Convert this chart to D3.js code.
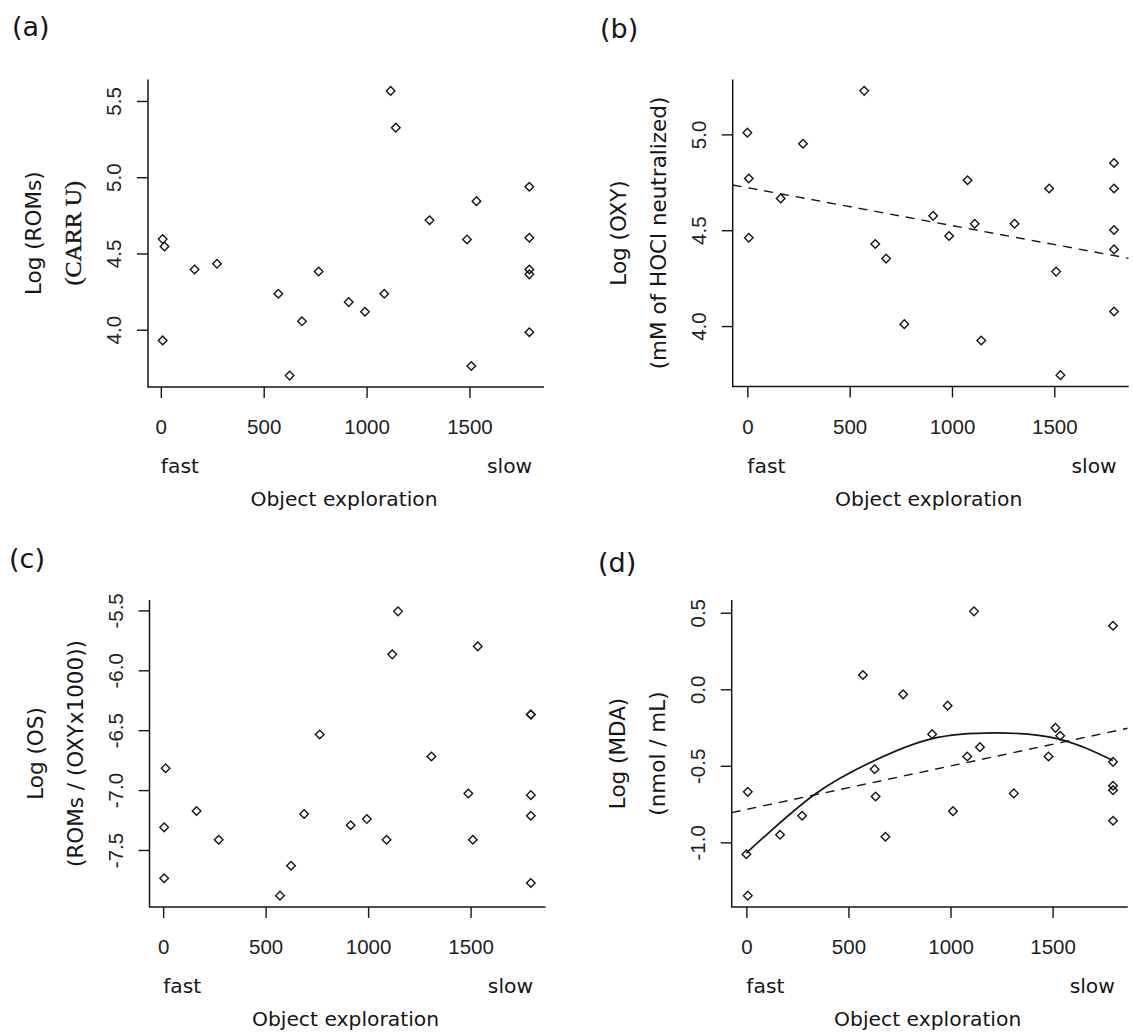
<!DOCTYPE html>
<html><head><meta charset="utf-8">
<script src="https://cdn.jsdelivr.net/npm/d3@7"></script>
<style>body{margin:0;background:#fff}</style>
</head><body>
<svg id="chart" width="1133" height="1034"></svg>
<script>
// ---------- data ----------
const xTickValues = [0, 500, 1000, 1500];
const speedWords = ["fast", "slow"];
const speedAt = [0, 1800];
const xTitle = "Object exploration";

const aX = [9,18,9,164,273,571,626,686,767,913,992,1086,1117,1142,1306,1488,1534,1509,1791,1791,1791,1791,1791];
const aY = [4.594,4.546,3.930,4.395,4.432,4.236,3.699,4.055,4.382,4.181,4.118,4.236,5.566,5.325,4.718,4.592,4.843,3.762,4.937,4.603,4.395,4.363,3.983];
const aTicks = [4.0,4.5,5.0,5.5];

const bX = [0,7,7,163,272,571,625,678,767,908,986,1076,1111,1143,1306,1475,1509,1530,1792,1792,1792,1792,1792];
const bY = [5.009,4.770,4.461,4.666,4.951,5.227,4.428,4.352,4.010,4.575,4.470,4.761,4.534,3.925,4.534,4.718,4.284,3.744,4.851,4.718,4.501,4.400,4.076];
const bTicks = [4.0,4.5,5.0];
const bFitX = [0, 1800];
const bFitY = [4.722, 4.366];

const cX = [12,5,5,163,271,570,624,688,764,915,994,1090,1118,1146,1309,1489,1511,1535,1794,1794,1794,1794,1794];
const cY = [-6.817,-7.311,-7.736,-7.175,-7.414,-7.881,-7.631,-7.200,-6.536,-7.294,-7.242,-7.414,-5.867,-5.508,-6.719,-7.028,-7.414,-5.800,-6.369,-6.369,-7.042,-7.214,-7.775];
const cTicks = [-7.5,-7.0,-6.5,-6.0,-5.5];

const dX = [7,0,7,165,273,571,628,633,681,768,910,986,1012,1082,1115,1144,1310,1480,1514,1537,1796,1796,1796,1796,1796];
const dY = [-0.670,-1.078,-1.348,-0.950,-0.826,0.093,-0.522,-0.700,-0.963,-0.033,-0.293,-0.107,-0.796,-0.439,0.509,-0.378,-0.680,-0.439,-0.252,-0.304,0.415,-0.474,-0.630,-0.659,-0.859];
const dTicks = [-1.0,-0.5,0.0,0.5];
const dFitX = [0, 1800];
const dFitY = [-0.785, -0.274];
const dCurveX = [0,334,628,906,1215,1526,1795];
const dCurveY = [-1.070,-0.687,-0.465,-0.324,-0.285,-0.324,-0.465];

// ---------- layout ----------
const svg = d3.select("#chart");
svg.append("rect").attr("width",1133).attr("height",1034).attr("fill","#fff");

const panels = [
  {tag:"(a)", xs:aX, ys:aY, ticks:aTicks, yl1:"Log (ROMs)", yl2:"(CARR U)", serif:true,
   l:148, t:79.5, w:396, h:307.5, tagX:12, tagY:36},
  {tag:"(b)", xs:bX, ys:bY, ticks:bTicks, yl1:"Log (OXY)", yl2:"(mM of HOCl neutralized)",
   fitX:bFitX, fitY:bFitY, l:732.7, t:79.5, w:396, h:307, tagX:600, tagY:38},
  {tag:"(c)", xs:cX, ys:cY, ticks:cTicks, yl1:"Log (OS)", yl2:"(ROMs / (OXYx1000))",
   l:149.5, t:600, w:396, h:307, tagX:9, tagY:568},
  {tag:"(d)", xs:dX, ys:dY, ticks:dTicks, yl1:"Log (MDA)", yl2:"(nmol / mL)",
   fitX:dFitX, fitY:dFitY, curveX:dCurveX, curveY:dCurveY,
   l:731.7, t:600, w:396, h:307, tagX:598, tagY:572}
];

const ink = "#151515";
const sansFont = "DejaVu Sans";
const tickFont = "Liberation Sans";

function padded(ext){ const r = ext[1]-ext[0]; return [ext[0]-0.04*r, ext[1]+0.04*r]; }

panels.forEach((p,i)=>{
  const x = d3.scaleLinear().domain(padded(d3.extent(p.xs))).range([p.l, p.l+p.w]);
  const y = d3.scaleLinear().domain(padded(d3.extent(p.ys))).range([p.t+p.h, p.t]);
  const g = svg.append("g");
  const bottom = p.t+p.h;

  const cid = "clip"+i;
  svg.append("clipPath").attr("id",cid).append("rect")
     .attr("x",p.l).attr("y",p.t).attr("width",p.w).attr("height",p.h);

  // L-shaped box
  g.append("path")
   .attr("d",`M${p.l},${p.t}V${bottom}H${p.l+p.w}`)
   .attr("fill","none").attr("stroke",ink).attr("stroke-width",1.5);

  // x axis ticks + labels
  const xa = g.append("g").attr("transform",`translate(0,${bottom})`)
    .call(d3.axisBottom(x).tickValues(xTickValues).tickSize(11).tickPadding(0).tickFormat(d3.format("d")));
  xa.select(".domain").remove();
  xa.selectAll(".tick line").attr("stroke",ink).attr("stroke-width",1.4);
  xa.selectAll(".tick text").attr("dy",null).attr("y",47)
    .attr("font-family",tickFont).attr("font-size",20.5).attr("fill","#222");

  // y axis ticks + labels (rotated)
  const ya = g.append("g").attr("transform",`translate(${p.l},0)`)
    .call(d3.axisLeft(y).tickValues(p.ticks).tickSize(11).tickFormat(d=>d.toFixed(1)));
  ya.select(".domain").remove();
  ya.selectAll(".tick line").attr("stroke",ink).attr("stroke-width",1.4);
  ya.selectAll(".tick text")
    .attr("x",null).attr("dy",null).attr("y",null)
    .attr("transform","translate(-27,0) rotate(-90)")
    .attr("text-anchor","middle")
    .attr("font-family",tickFont).attr("font-size",20.5).attr("fill","#222");

  // fit lines
  const clipped = g.append("g").attr("clip-path",`url(#${cid})`);
  if(p.fitX){
    const slope = (p.fitY[1]-p.fitY[0])/(p.fitX[1]-p.fitX[0]);
    const dom = x.domain();
    const pts = dom.map(v=>[v, p.fitY[0]+slope*(v-p.fitX[0])]);
    clipped.append("path")
      .attr("d", d3.line().x(d=>x(d[0])).y(d=>y(d[1]))(pts))
      .attr("fill","none").attr("stroke",ink).attr("stroke-width",1.4)
      .attr("stroke-dasharray","9,7");
  }
  if(p.curveX){
    const pts = p.curveX.map((v,k)=>[v,p.curveY[k]]);
    clipped.append("path")
      .attr("d", d3.line().curve(d3.curveNatural).x(d=>x(d[0])).y(d=>y(d[1]))(pts))
      .attr("fill","none").attr("stroke",ink).attr("stroke-width",1.7);
  }

  // points (open diamonds)
  const r = 4.3;
  g.selectAll("path.pt").data(p.xs.map((v,k)=>[v,p.ys[k]])).join("path")
    .attr("class","pt")
    .attr("d",`M0,${-r}L${r},0L0,${r}L${-r},0Z`)
    .attr("transform",d=>`translate(${x(d[0])},${y(d[1])})`)
    .attr("fill","none").attr("stroke",ink).attr("stroke-width",1.4);

  // fast / slow
  g.append("text").text(speedWords[0])
    .attr("x",x(speedAt[0])).attr("y",bottom+86)
    .attr("font-family",sansFont).attr("font-size",20.3).attr("fill",ink);
  g.append("text").text(speedWords[1])
    .attr("x",x(speedAt[1])+1).attr("y",bottom+86).attr("text-anchor","end")
    .attr("font-family",sansFont).attr("font-size",20.3).attr("fill",ink);

  // x title
  g.append("text").text(xTitle)
    .attr("x",p.l+p.w/2-2).attr("y",bottom+119).attr("text-anchor","middle")
    .attr("font-family",sansFont).attr("font-size",20.3).attr("fill",ink);

  // y titles
  const cy = p.t+p.h/2;
  g.append("text").text(p.yl1)
    .attr("transform",`translate(${p.l-107},${cy}) rotate(-90)`).attr("text-anchor","middle")
    .attr("font-family",sansFont).attr("font-size",21.5).attr("fill",ink);
  g.append("text").text(p.yl2)
    .attr("transform",`translate(${p.l-67},${cy}) rotate(-90)`).attr("text-anchor","middle")
    .attr("font-family",p.serif?"Liberation Serif":sansFont)
    .attr("font-size",p.serif?24:21.5)
    .attr("stroke",p.serif?ink:"none").attr("stroke-width",p.serif?0.4:0)
    .attr("fill",ink);

  // panel tag
  g.append("text").text(p.tag).attr("x",p.tagX).attr("y",p.tagY)
    .attr("font-family",sansFont).attr("font-size",27).attr("fill",ink);
});
</script>
</body></html>
